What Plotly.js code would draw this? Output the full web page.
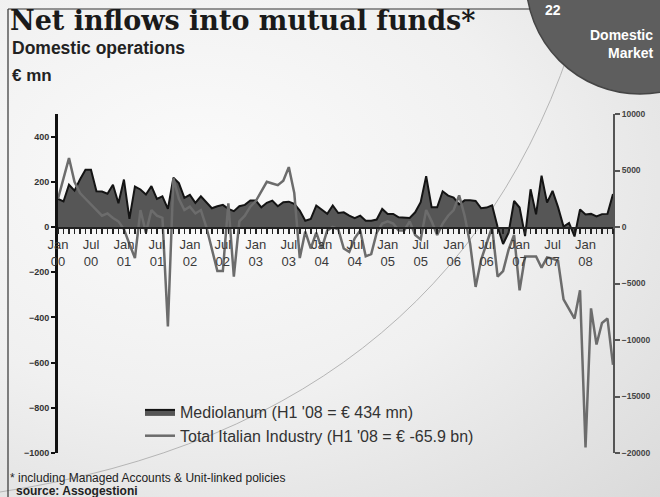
<!DOCTYPE html>
<html><head><meta charset="utf-8">
<script src="https://cdn.plot.ly/plotly-3.0.1.min.js"></script>
<style>
html,body{margin:0;padding:0;}
#chart{width:660px;height:497px;background:radial-gradient(ellipse at 30% 35%, #fbfbfb 0%, #f0f0f0 50%, #dadada 100%);}
</style></head><body><div id="chart"></div>
<script>
// Monthly net inflows, Jan 2000 .. Jun 2008
const mediolanum = [
 124,113,187,161,210,253,253,158,157,147,187,105,
 210,36,179,166,144,181,124,136,80,218,194,129,
 142,107,136,107,83,92,98,80,70,92,98,117,
 117,87,107,117,92,110,112,102,73,28,36,95,
 76,58,95,62,65,50,39,50,28,28,33,80,
 58,58,43,43,40,65,110,225,87,87,158,139,
 130,100,118,118,115,83,86,96,0,-75,-25,115,
 86,-40,167,56,227,108,160,88,2,18,-42,78,
 55,58,47,57,58,146
];
const industry = [
 2500,4300,6100,4000,3000,2500,2000,1500,1000,1200,800,500,
 -200,-1500,-2750,1500,-500,1500,1000,800,-8800,4300,2500,1500,
 1800,1200,1500,0,-2000,-3900,-3900,2100,-4400,500,1000,1800,
 2300,3200,4000,3850,3700,4100,5300,3000,-2750,-400,-1900,-500,
 -1900,-300,0,-200,-1900,-2200,-1000,-300,-2600,-2400,-500,300,
 500,300,-300,-300,500,-700,-1100,1500,500,-700,300,1000,
 1500,2800,1000,-1500,-5300,-2900,-1500,0,-4400,-3900,-2000,-700,
 -5600,-2600,-2600,-2600,-3600,-2700,-2800,-3000,-6400,-7300,-8100,-5600,
 -19500,-7200,-10400,-8500,-8100,-12200
];
const tickIdx = [0,6,12,18,24,30,36,42,48,54,60,66,72,78,84,90,96];
const tickText = ['Jan<br>00','Jul<br>00','Jan<br>01','Jul<br>01','Jan<br>02','Jul<br>02','Jan<br>03','Jul<br>03',
 'Jan<br>04','Jul<br>04','Jan<br>05','Jul<br>05','Jan<br>06','Jul<br>06','Jan<br>07','Jul<br>07','Jan<br>08'];
const seriesNames = ["Mediolanum (H1 '08 = € 434 mn)", "Total Italian Industry (H1 '08 = € -65.9 bn)"];

const idx = mediolanum.map((_, i) => i);

const L = 58, R = 47, T = 114, B = 44, W = 660, H = 497;
const pw = W - L - R, ph = H - T - B;
const px = v => (v - L) / pw;
const py = v => (H - B - v) / ph;
const sans = 'Liberation Sans, Arial, sans-serif';

function ann(text, x, y, xanchor, font) {
  return {text, x: px(x), y: py(y), xref: 'paper', yref: 'paper', showarrow: false,
          xanchor, yanchor: 'middle', font};
}

const traces = [
  {x: idx, y: mediolanum, type: 'scatter', mode: 'lines', fill: 'tozeroy',
   fillcolor: '#565656', line: {color: '#141414', width: 2}, name: seriesNames[0]},
  {x: idx, y: industry, type: 'scatter', mode: 'lines', yaxis: 'y2',
   line: {color: '#6c6c6c', width: 2.5}, name: seriesNames[1]}
];

const arcPath = 'M ' + px(0) + ',' + py(492) + ' Q ' + px(470) + ',' + py(420) + ' ' + px(585) + ',' + py(0);

const layout = {
  width: W, height: H,
  margin: {l: L, r: R, t: T, b: B, pad: 0},
  paper_bgcolor: 'rgba(0,0,0,0)', plot_bgcolor: 'rgba(0,0,0,0)',
  showlegend: true,
  title: {text: 'Net inflows into mutual funds*', xref: 'container', yref: 'container',
          x: 10 / W, xanchor: 'left', y: 1 - 21 / H, yanchor: 'middle',
          font: {family: 'DejaVu Serif, serif', size: 27, weight: 'bold', color: '#1a1a1a'}},
  xaxis: {range: [0, 101], anchor: 'free', position: 2 / 3, showline: true, linecolor: '#222', linewidth: 1.5,
          ticks: 'outside', ticklen: 5, tickwidth: 1.5, tickcolor: '#222',
          tickmode: 'array', tickvals: tickIdx, ticktext: tickText,
          tickfont: {family: sans, size: 13, color: '#3a3a3a'},
          minor: {dtick: 1, tick0: 0, ticks: 'outside', ticklen: 5, tickwidth: 1.5, tickcolor: '#222', showgrid: false},
          showgrid: false, zeroline: false, fixedrange: true},
  yaxis: {range: [-1000, 500], tick0: 0, dtick: 200, showline: true, linecolor: '#111', linewidth: 3,
          ticks: 'outside', ticklen: 4, tickwidth: 2, tickcolor: '#111',
          tickfont: {family: sans, size: 9, weight: 'bold', color: '#333'},
          showgrid: false, zeroline: false, fixedrange: true},
  yaxis2: {range: [-20000, 10000], tick0: 0, dtick: 5000, overlaying: 'y', side: 'right',
           tickformat: 'd', showline: true, linecolor: '#555', linewidth: 2,
           ticks: 'outside', ticklen: 5, tickwidth: 2, tickcolor: '#555',
           tickfont: {family: sans, size: 8.5, weight: 'bold', color: '#444'},
           showgrid: false, zeroline: false, fixedrange: true},
  legend: {x: px(140), y: py(395), xanchor: 'left', yanchor: 'top', bgcolor: 'rgba(0,0,0,0)',
           font: {family: sans, size: 16, color: '#333'}, tracegroupgap: 0},
  shapes: [
    {type: 'path', path: arcPath, xref: 'paper', yref: 'paper', layer: 'below',
     line: {color: '#b5b5b5', width: 1}},
    {type: 'line', xref: 'paper', yref: 'paper', x0: px(8), x1: px(8), y0: py(497), y1: py(9),
     line: {color: '#333', width: 1.2}},
    {type: 'line', xref: 'paper', yref: 'paper', x0: px(8), x1: px(530), y0: py(9), y1: py(9),
     line: {color: '#333', width: 1.2}},
    {type: 'circle', xref: 'paper', yref: 'paper', x0: px(526), x1: px(754), y0: py(94), y1: py(-134),
     fillcolor: '#5e5e5e', line: {color: '#454545', width: 1.5}, layer: 'below'}
  ],
  annotations: [
    ann('Domestic operations', 10, 48, 'left', {family: sans, size: 17.5, weight: 'bold', color: '#222'}),
    ann('€ mn', 10, 75, 'left', {family: sans, size: 17, weight: 'bold', color: '#222'}),
    ann('22', 553, 10, 'center', {family: sans, size: 14, weight: 'bold', color: '#ffffff'}),
    ann('Domestic', 655, 35, 'right', {family: sans, size: 14, weight: 'bold', color: '#ffffff'}),
    ann('Market', 655, 53, 'right', {family: sans, size: 14, weight: 'bold', color: '#ffffff'}),
    ann('* including Managed Accounts &amp; Unit-linked policies', 8, 478, 'left', {family: sans, size: 12, color: '#222'}),
    ann('source: Assogestioni', 14, 491, 'left', {family: sans, size: 12, weight: 'bold', color: '#222'})
  ]
};

Plotly.newPlot('chart', traces, layout, {displayModeBar: false, staticPlot: true});
</script>
</body></html>
